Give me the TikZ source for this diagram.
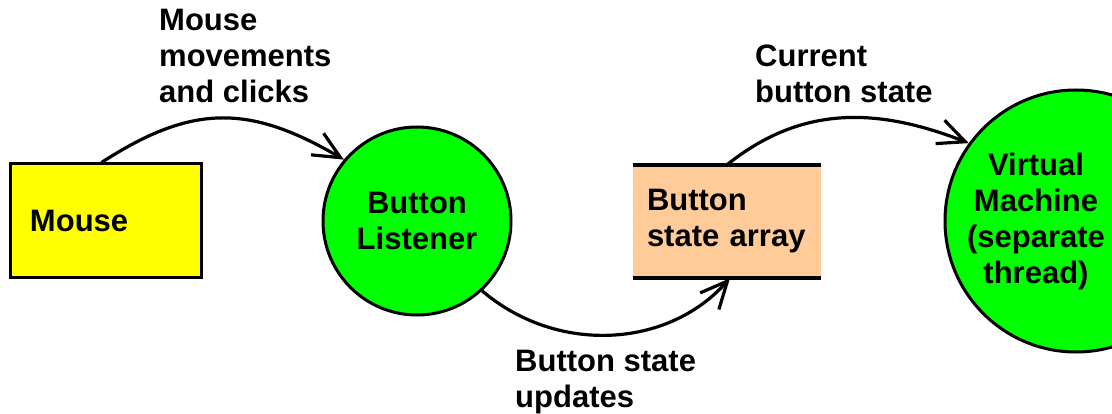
\documentclass[tikz,border=0pt]{standalone}
\usepackage{fontspec}
\setmainfont{Liberation Sans}
\usetikzlibrary{arrows.meta}
\definecolor{extyellow}{HTML}{FFFF00}
\definecolor{procgreen}{HTML}{00FF00}
\definecolor{storepeach}{HTML}{FFCC99}
\begin{document}
\begin{tikzpicture}[x=1pt,y=-1pt,
  every node/.style={font=\fontsize{31}{36}\selectfont\bfseries},
  extbox/.style={draw=black, line width=3pt, fill=extyellow, rectangle},
  procbubble/.style={draw=black, line width=3pt, fill=procgreen, circle, inner sep=0pt},
  storebox/.style={fill=storepeach, rectangle},
  lbl/.style={inner sep=0pt, align=left},
  flow/.style={line width=3.2pt, -{Straight Barb[length=27pt,width=25pt]}}]
\useasboundingbox (0,0) rectangle (1112,414);
\clip (0,0) rectangle (1112,414);

% external entity, processes and data store
\node[extbox, minimum width=191pt, minimum height=114pt, text width=151pt,
      inner xsep=20pt, align=left] (mouse) at (105.5,221) {Mouse};
\node[procbubble, minimum size=188pt, align=center] (bl) at (417,221) {Button\\Listener};
\node[storebox, minimum width=188pt, minimum height=113pt, text width=160pt,
      inner xsep=14pt, align=left] (sa) at (727,221.5) {Button\\state array};
\draw[line width=4pt] (sa.north west) -- (sa.north east)
                      (sa.south west) -- (sa.south east);
\node[procbubble, minimum size=262pt] (vm) at (1076,221) {};
\node[inner sep=0pt, align=center] (vmtext) at ([xshift=-40pt]vm.center)
      {Virtual\\Machine\\(separate\\thread)};

% data flows
\draw[flow] ([xshift=-4pt]mouse.north) .. controls (192,104) and (249,104) .. (bl.140);
\draw[flow] (bl.-47) .. controls (556,354) and (667,349) .. ([xshift=3pt]sa.south);
\draw[flow] (sa.north) .. controls (804,103) and (881,109) .. (vm.144);

% flow labels (anchored at the baseline of their last line)
\node[lbl, anchor=base west] (l1) at (159,103) {Mouse\\movements\\and clicks};
\node[lbl, anchor=base west] (l2) at (515,407) {Button state\\updates};
\node[lbl, anchor=base west] (l3) at (755,103) {Current\\button state};
\end{tikzpicture}
\end{document}
